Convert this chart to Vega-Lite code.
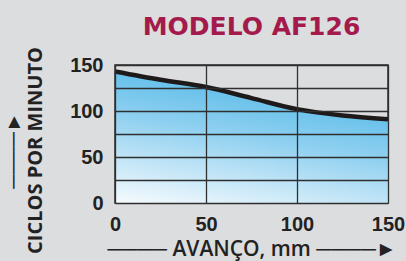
{
  "$schema": "https://vega.github.io/schema/vega-lite/v6.json",
  "width": 273,
  "height": 138,
  "autosize": "none",
  "padding": {"left": 115, "top": 65, "right": 18, "bottom": 58},
  "background": "#dcdddf",
  "title": {
    "text": "MODELO AF126",
    "font": "DejaVu Sans",
    "fontSize": 25,
    "fontWeight": "bold",
    "color": "#a31a4b",
    "baseline": "alphabetic",
    "offset": -13,
    "anchor": "middle"
  },
  "config": {
    "view": {"stroke": "#2a2a2a", "strokeWidth": 1.5, "fill": "#dcdddf"},
    "axis": {"domain": false, "ticks": false, "gridColor": "#2f2f2f", "gridOpacity": 1, "gridWidth": 1.3}
  },
  "data": {
    "values": [
      {"avanco": 0, "ciclos": 143},
      {"avanco": 25, "ciclos": 134},
      {"avanco": 50, "ciclos": 126},
      {"avanco": 75, "ciclos": 114},
      {"avanco": 100, "ciclos": 102},
      {"avanco": 125, "ciclos": 95},
      {"avanco": 150, "ciclos": 91}
    ]
  },
  "encoding": {
    "x": {
      "field": "avanco", "type": "quantitative",
      "scale": {"domain": [0, 150], "nice": false},
      "axis": {
        "zindex": 1,
        "values": [0, 50, 100, 150],
        "labelFont": "Liberation Sans", "labelFontWeight": "bold", "labelFontSize": 20, "labelColor": "#222",
        "labelPadding": 11, "labelFlush": false,
        "title": "──── AVANÇO, mm ────►",
        "titleFont": "Open Sans", "titleFontWeight": 600, "titleFontSize": 21, "titleColor": "#222",
        "titlePadding": 4
      }
    },
    "y": {
      "field": "ciclos", "type": "quantitative",
      "scale": {"domain": [0, 150], "nice": false},
      "axis": {
        "zindex": 1,
        "values": [0, 25, 50, 75, 100, 125, 150],
        "labelExpr": "datum.value % 50 == 0 ? datum.label : ''",
        "labelFont": "Liberation Sans", "labelFontWeight": "bold", "labelFontSize": 20, "labelColor": "#222",
        "labelPadding": 12, "labelFlush": false,
        "title": ["────►", "CICLOS POR MINUTO"],
        "titleFont": "Open Sans", "titleFontWeight": "bold", "titleFontSize": 20, "titleColor": "#222",
        "titlePadding": 24, "titleLineHeight": 22, "titleY": 85
      }
    }
  },
  "layer": [
    {
      "mark": {
        "type": "area",
        "interpolate": "monotone",
        "color": {
          "gradient": "linear",
          "x1": 0, "y1": 1, "x2": 0.35, "y2": 0,
          "stops": [
            {"offset": 0, "color": "#f6fbfe"},
            {"offset": 0.6, "color": "#8fd0f0"},
            {"offset": 1, "color": "#58bbe9"}
          ]
        }
      }
    },
    {
      "mark": {"type": "line", "interpolate": "monotone", "color": "#1e1a1a", "strokeWidth": 4.5}
    }
  ]
}
